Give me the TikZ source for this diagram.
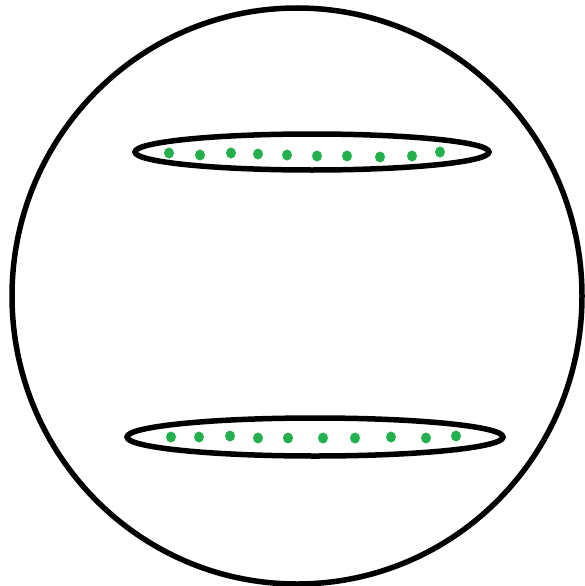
\documentclass[tikz,border=0pt]{standalone}
\usepackage{xcolor}
\usepackage{tikz}
\definecolor{paintgreen}{RGB}{34,177,76}

\begin{document}
\begin{tikzpicture}[x=1pt, y=-1pt, line width=5.5pt]
    \useasboundingbox (0,0) rectangle (585,586);

    % 1. Vòng tròn lớn bên ngoài
    \draw[black] (297,296) ellipse [x radius=285, y radius=288];

    % 2. Hai elip dẹt
    \draw[black] (312,152) ellipse [x radius=177, y radius=18];
    \draw[black] (315,437) ellipse [x radius=188, y radius=19];

    % 3. Các chấm xanh bên trong elip trên
    \foreach \x/\y in {169/153, 200/155, 231/153, 258/154, 287/155,
                       317/156, 347/156, 380/157, 412/156, 440/152}
        \fill[paintgreen] (\x,\y) ellipse [x radius=5, y radius=5.5];

    % Các chấm xanh bên trong elip dưới
    \foreach \x/\y in {171/437, 199/437, 230/436, 258/438, 288/438,
                       323/438, 355/438, 391/437, 426/438, 456/436}
        \fill[paintgreen] (\x,\y) ellipse [x radius=5, y radius=5.5];

\end{tikzpicture}
\end{document}
